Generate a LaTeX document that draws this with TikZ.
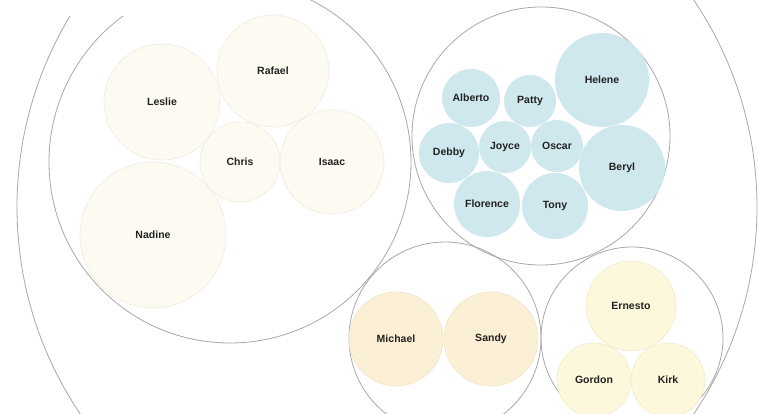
\documentclass[tikz,border=0pt]{standalone}
\usepackage{fontspec}
\setmainfont{Liberation Sans}
\definecolor{ringgray}{HTML}{A8A8A8}
\definecolor{creamfill}{HTML}{FDFBF1}
\definecolor{creamline}{HTML}{EFEBDD}
\definecolor{bluefill}{HTML}{CEE8EE}
\definecolor{orangefill}{HTML}{FBEFD6}
\definecolor{orangeline}{HTML}{F2E4C6}
\definecolor{yellowfill}{HTML}{FDF8DC}
\definecolor{yellowline}{HTML}{F1EBCB}
\definecolor{labeltext}{HTML}{222222}
\tikzset{
  ring/.style={circle, draw=ringgray, line width=0.8pt, inner sep=0pt},
  leaf/.style={circle, inner sep=0pt, text=labeltext,
    font=\fontsize{10.5}{12}\selectfont\bfseries},
  creamleaf/.style={leaf, fill=creamfill, draw=creamline, line width=0.6pt},
  blueleaf/.style={leaf, fill=bluefill, draw=none},
  orangeleaf/.style={leaf, fill=orangefill, draw=orangeline, line width=0.6pt},
  yellowleaf/.style={leaf, fill=yellowfill, draw=yellowline, line width=0.6pt}
}
\begin{document}
\begin{tikzpicture}[x=1pt, y=-1pt]
\useasboundingbox (0,0) rectangle (758,413);
\clip (0,0) rectangle (758,413);
\fill[white] (0,0) rectangle (758,413);
% outer ring
\node[ring, minimum size=740pt] (root) at (387,207) {};
% group rings
\node[ring, minimum size=362pt] (g1) at (230,162) {};
\node[ring, minimum size=258pt] (g2) at (541,136) {};
\node[ring, minimum size=192pt] (g3) at (445,338) {};
\node[ring, minimum size=182pt] (g4) at (632,338) {};
% group 1
\node[creamleaf, minimum size=116pt] (leslie) at (162,102) {Leslie};
\node[creamleaf, minimum size=112pt] (rafael) at (273,71) {Rafael};
\node[creamleaf, minimum size=80pt] (chris) at (240,162) {Chris};
\node[creamleaf, minimum size=104pt] (isaac) at (332,162) {Isaac};
\node[creamleaf, minimum size=146pt] (nadine) at (153,235) {Nadine};
% group 2
\node[blueleaf, minimum size=94pt] (helene) at (602,80) {Helene};
\node[blueleaf, minimum size=58pt] (alberto) at (471,98) {Alberto};
\node[blueleaf, minimum size=52pt] (patty) at (530,101) {Patty};
\node[blueleaf, minimum size=60pt] (debby) at (449,153) {Debby};
\node[blueleaf, minimum size=52pt] (joyce) at (505,147) {Joyce};
\node[blueleaf, minimum size=52pt] (oscar) at (557,146) {Oscar};
\node[blueleaf, minimum size=86pt] (beryl) at (622,168) {Beryl};
\node[blueleaf, minimum size=66pt] (florence) at (487,204) {Florence};
\node[blueleaf, minimum size=66pt] (tony) at (555,206) {Tony};
% group 3
\node[orangeleaf, minimum size=94pt] (michael) at (396,339) {Michael};
\node[orangeleaf, minimum size=94pt] (sandy) at (491,339) {Sandy};
% group 4
\node[yellowleaf, minimum size=90pt] (ernesto) at (631,306) {Ernesto};
\node[yellowleaf, minimum size=74pt] (gordon) at (594,380) {Gordon};
\node[yellowleaf, minimum size=74pt] (kirk) at (668,380) {Kirk};
% white band at top left
\fill[white] (0,0) rectangle (250,16);
\end{tikzpicture}
\end{document}
